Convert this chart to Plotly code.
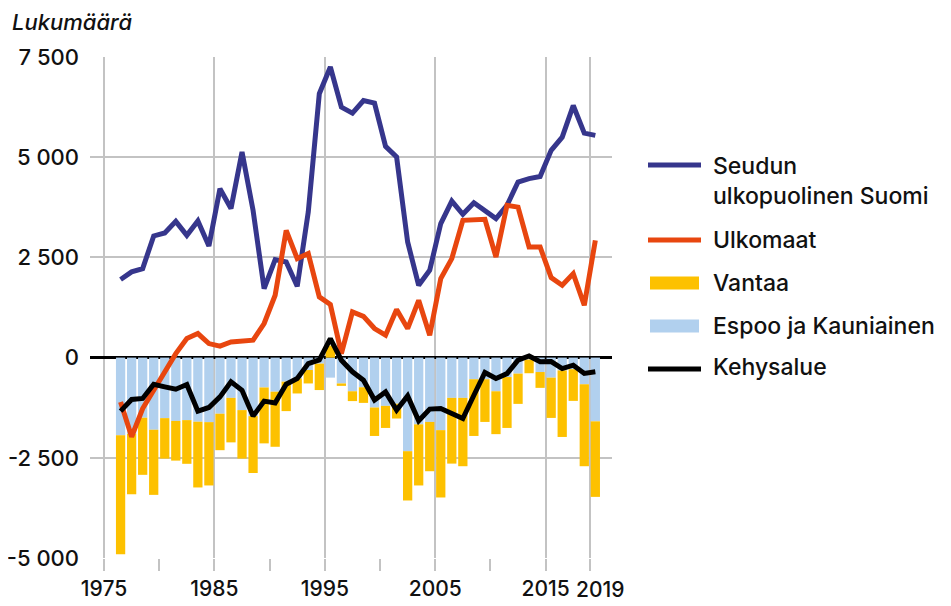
import plotly.graph_objects as go

years = list(range(1976, 2020))

espoo = [-1940, -1900, -1500, -1800, -1510, -1580, -1560, -1600, -1610, -1400,
         -1005, -1310, -1460, -745, -850, -600, -520, -310, -150, -500,
         -645, -840, -740, -1245, -1205, -1150, -2335, -1665, -1605, -1810,
         -1005, -1005, -540, -540, -840, -485, -400, -50, -360, -500,
         -320, -290, -665, -1590]

vantaa = [-2965, -1510, -1425, -1625, -1010, -990, -1090, -1640, -1580, -910,
          -1110, -1210, -1420, -1395, -1375, -735, -375, -335, -660, 300,
          -60, -245, -390, -710, -550, -370, -1230, -1525, -1230, -1680,
          -1640, -1705, -1415, -1065, -1070, -1270, -755, -340, -395, -1005,
          -1660, -790, -2045, -1885]

seudun = [1950, 2140, 2220, 3035, 3110, 3400, 3050, 3410, 2785, 4215,
          3720, 5130, 3675, 1720, 2445, 2385, 1780, 3635, 6585, 7250,
          6250, 6100, 6415, 6350, 5270, 5005, 2885, 1805, 2180, 3345,
          3905, 3575, 3865, 3675, 3470, 3800, 4380, 4465, 4520, 5170,
          5500, 6290, 5600, 5545]

ulkomaat = [-1105, -1975, -1270, -810, -300, 100, 475, 600, 350, 285,
            390, 410, 435, 850, 1555, 3175, 2470, 2595, 1515, 1325,
            100, 1140, 1030, 725, 560, 1200, 725, 1430, 560, 1970,
            2470, 3425, 3440, 3450, 2510, 3800, 3755, 2760, 2760, 1995,
            1805, 2095, 1305, 2925]

kehys = [-1335, -1045, -1020, -665, -730, -790, -670, -1335, -1245, -980,
         -605, -815, -1460, -1085, -1130, -665, -520, -150, -60, 475,
         -65, -355, -565, -1060, -855, -1310, -955, -1575, -1285, -1270,
         -1395, -1520, -940, -370, -520, -400, -65, 40, -105, -100,
         -275, -190, -395, -355]

y_ticks = [-5000, -2500, 0, 2500, 5000, 7500]
y_labels = ["-5 000", "-2 500", "0", "2 500", "5 000", "7 500"]
x_tick_years = [1975, 1985, 1995, 2005, 2015, 2019]
x_labels = ["1975", "1985", "1995", "2005", "2015", "2019"]
x_minor_years = [1980, 1990, 2000, 2010]

FONT = "Inter, 'Noto Sans', sans-serif"
GRID = "#c3c3c3"
TXT = "#111111"
C_SEUDUN = "#36368c"
C_ULKO = "#e8460f"
C_VANTAA = "#fdc100"
C_ESPOO = "#b1d0ee"
C_KEHYS = "#000000"

fig = go.Figure()
fig.add_trace(go.Bar(x=years, y=espoo, name="Espoo ja Kauniainen",
                     marker=dict(color=C_ESPOO, line=dict(width=0))))
fig.add_trace(go.Bar(x=years, y=vantaa, name="Vantaa",
                     marker=dict(color=C_VANTAA, line=dict(width=0))))
fig.add_trace(go.Scatter(x=years, y=seudun, mode="lines",
                         name="Seudun ulkopuolinen Suomi",
                         line=dict(color=C_SEUDUN, width=5)))
fig.add_trace(go.Scatter(x=years, y=ulkomaat, mode="lines", name="Ulkomaat",
                         line=dict(color=C_ULKO, width=5)))
fig.add_trace(go.Scatter(x=years, y=kehys, mode="lines", name="Kehysalue",
                         line=dict(color=C_KEHYS, width=5)))

# --- custom legend (paper coordinates; page pixels of plot area 90..612 x 57..558) ---
PX0, PW, PY0, PH = 90, 522, 558, 501
def px(xp):
    return (xp - PX0) / PW
def py(yp):
    return (PY0 - yp) / PH

legend_items = [
    ("line", C_SEUDUN, "Seudun<br>ulkopuolinen Suomi", 165, 181),
    ("line", C_ULKO, "Ulkomaat", 240, 240),
    ("rect", C_VANTAA, "Vantaa", 283, 283),
    ("rect", C_ESPOO, "Espoo ja Kauniainen", 326, 326),
    ("line", C_KEHYS, "Kehysalue", 369, 367),
]
shapes = []
annotations = []
for kind, col, label, sy, ty in legend_items:
    if kind == "line":
        shapes.append(dict(type="line", xref="paper", yref="paper",
                           x0=px(648), x1=px(701), y0=py(sy), y1=py(sy),
                           line=dict(color=col, width=5)))
    else:
        shapes.append(dict(type="rect", xref="paper", yref="paper",
                           x0=px(650), x1=px(699), y0=py(sy - 6.5), y1=py(sy + 6.5),
                           fillcolor=col, line=dict(width=0)))
    annotations.append(dict(text=label, xref="paper", yref="paper",
                            x=px(711), y=py(ty), xanchor="left", yanchor="middle",
                            align="left", showarrow=False,
                            font=dict(family=FONT, size=23, color=TXT, weight=500)))

# last x tick label sits a little to the right of its grid line
annotations.append(dict(text=x_labels[-1], xref="x", yref="paper",
                        x=x_tick_years[-1] - 0.5, y=0, xshift=10, yshift=-31,
                        xanchor="center", yanchor="middle", showarrow=False,
                        font=dict(family=FONT, size=21, color=TXT, weight=500)))

W, H = 943, 598  # page body has an 8px margin
fig.update_layout(
    width=W, height=H,
    margin=dict(l=82, r=339, t=49, b=48, autoexpand=False),
    paper_bgcolor="white", plot_bgcolor="white",
    barmode="relative", bargap=0.16,
    font=dict(family=FONT, size=21, color=TXT, weight=500),
    title=dict(text="<i>Lukumäärä</i>", x=4/W, xanchor="left",
               xref="container", y=1-14/H, yref="container", yanchor="middle",
               font=dict(family=FONT, size=22, color=TXT, weight=500)),
    showlegend=False,
    shapes=shapes,
    annotations=annotations,
)

fig.update_xaxes(
    range=[1973.23, 2020.51],
    tickvals=[y - 0.5 for y in x_tick_years],
    ticktext=x_labels[:-1] + [""], tickangle=0, automargin=False,
    showgrid=True, gridcolor=GRID, gridwidth=2,
    ticks="outside", ticklen=12, tickwidth=2, tickcolor=GRID,
    minor=dict(tickvals=[y - 0.5 for y in x_minor_years], ticks="outside",
               ticklen=12, tickwidth=2, tickcolor=GRID, showgrid=False),
    zeroline=False, showline=False,
    tickfont=dict(family=FONT, size=21, color=TXT, weight=500),
)
fig.update_yaxes(
    range=[-5000, 7500], automargin=False,
    tickvals=y_ticks, ticktext=y_labels,
    showgrid=True, gridcolor=GRID, gridwidth=2,
    zeroline=True, zerolinecolor="#000000", zerolinewidth=3,
    ticks="", ticklabelstandoff=10, showline=False,
    tickfont=dict(family=FONT, size=22, color=TXT, weight=500),
)

fig.write_html("out.html")
